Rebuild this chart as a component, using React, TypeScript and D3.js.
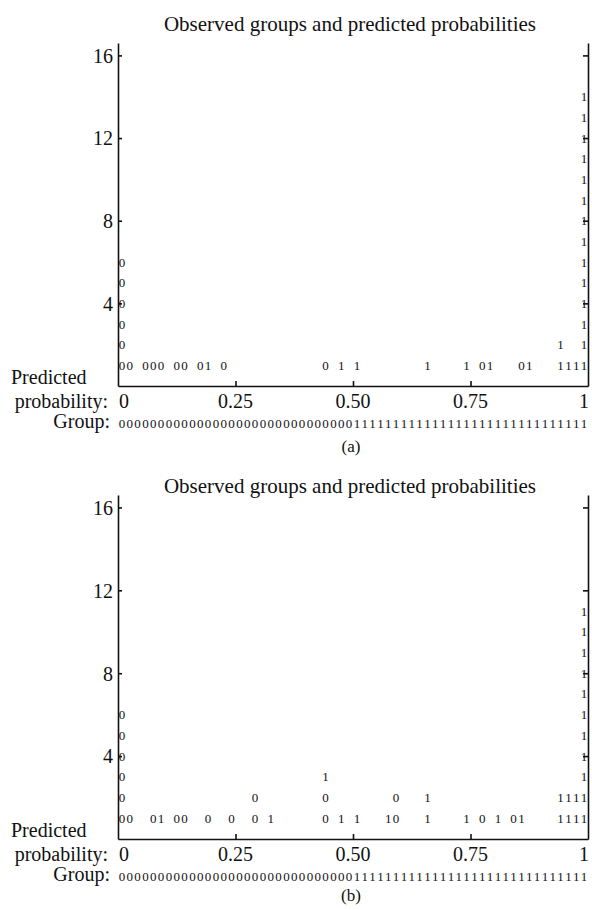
import { useRef, useEffect } from "react";
import * as d3 from "d3";

const title = "Observed groups and predicted probabilities";
const nBins = 60; // columns of the classification plot
const cutBin = 30; // group row switches from 0 to 1 here
const yMax = 16.6;
const yTicks = [4, 8, 12, 16];
const xTickMarks = [0.25, 0.5, 0.75];
const xTicks = [0, 0.25, 0.5, 0.75, 1];
const xTickLabels = ["0", "0.25", "0.50", "0.75", "1"];

// panel (a): column index and the symbols stacked in it, bottom to top
const binsA = [0, 1, 3, 4, 5, 7, 8, 10, 11, 13, 26, 28, 30, 39, 44, 46, 47, 51, 52, 56, 57, 58, 59];
const stacksA = [
  "000000", "0", "0", "0", "0", "0", "0", "0", "1", "0",
  "0", "1", "1", "1", "1", "0", "1", "0", "1",
  "11", "1", "1", "11111111111111",
];

// panel (b)
const binsB = [0, 1, 4, 5, 7, 8, 11, 14, 17, 19, 26, 28, 30, 34, 35, 39, 44, 46, 48, 50, 51, 56, 57, 58, 59];
const stacksB = [
  "000000", "0", "0", "1", "0", "0", "0", "0", "00", "1",
  "001", "1", "1", "1", "00", "11", "1", "0", "1", "0", "1",
  "11", "11", "11", "11111111111",
];

const FONT = "Liberation Serif, DejaVu Serif, serif";

function drawPanel(svg, bins, stacks, lay) {
  const left = 118;
  const right = 588;
  const x = d3.scaleLinear().domain([0, 1]).range([left, right]);
  const col = d3.scaleBand().domain(d3.range(nBins)).range([left, right]);
  const cx = (b) => col(b) + col.bandwidth() / 2;
  const y = d3.scaleLinear().domain([0, yMax]).range([lay.bottom, lay.top]);

  const g = svg.append("g").style("font-family", FONT).attr("fill", "#111");

  g.append("text")
    .attr("x", 350)
    .attr("y", lay.titleY)
    .attr("text-anchor", "middle")
    .attr("font-size", 21)
    .text(title);

  // left axis
  const yAxisL = d3.axisLeft(y).tickValues(yTicks).tickSizeInner(-4).tickSizeOuter(0).tickPadding(5);
  const gl = g.append("g").attr("transform", `translate(${left},0)`).call(yAxisL);
  gl.attr("font-family", null).attr("font-size", 20);
  gl.selectAll("text").attr("fill", "#111").attr("dy", "0.34em");

  // right axis
  const yAxisR = d3.axisRight(y).tickValues(yTicks).tickSizeInner(-5).tickSizeOuter(0).tickFormat(() => "");
  g.append("g").attr("transform", `translate(${right},0)`).call(yAxisR);

  // bottom axis
  const xAxis = d3.axisBottom(x).tickValues(xTickMarks).tickSizeInner(-5).tickSizeOuter(0).tickFormat(() => "");
  g.append("g").attr("transform", `translate(0,${lay.bottom})`).call(xAxis);

  g.selectAll(".domain, .tick line").attr("stroke", "#111").attr("stroke-width", 1.6);

  // x tick labels
  g.selectAll(".xlab")
    .data(xTicks)
    .join("text")
    .attr("class", "xlab")
    .attr("x", (d) => (d === 0 ? x(d) + 1 : d === 1 ? x(d) + 1 : x(d)))
    .attr("y", lay.bottom + 22)
    .attr("text-anchor", (d) => (d === 0 ? "start" : d === 1 ? "end" : "middle"))
    .attr("font-size", 20)
    .text((d, i) => xTickLabels[i]);

  g.append("text").attr("x", 11).attr("y", lay.bottom - 2).attr("font-size", 20).text("Predicted");
  g.append("text").attr("x", 108).attr("y", lay.bottom + 22).attr("text-anchor", "end").attr("font-size", 20).text("probability:");
  g.append("text").attr("x", 110).attr("y", lay.bottom + 42).attr("text-anchor", "end").attr("font-size", 20).text("Group:");

  // group row
  g.selectAll(".grp")
    .data(d3.range(nBins))
    .join("text")
    .attr("class", "grp")
    .attr("x", (d) => cx(d))
    .attr("y", lay.bottom + 42)
    .attr("text-anchor", "middle")
    .attr("font-size", 13)
    .text((d) => (d < cutBin ? "0" : "1"));

  // stacked symbols
  const cells = bins.flatMap((b, i) =>
    stacks[i].split("").map((s, k) => ({ b, s, level: k + 1 }))
  );
  g.selectAll(".sym")
    .data(cells)
    .join("text")
    .attr("class", "sym")
    .attr("x", (d) => cx(d.b))
    .attr("y", (d) => y(d.level))
    .attr("dy", "0.35em")
    .attr("text-anchor", "middle")
    .attr("font-size", 13)
    .text((d) => d.s);

  g.append("text")
    .attr("x", 351)
    .attr("y", lay.captionY)
    .attr("text-anchor", "middle")
    .attr("font-size", 17)
    .text(lay.caption);
}

export default function App() {
  const svgRef = useRef(null);

  useEffect(() => {
    const svg = d3.select(svgRef.current);
    svg.selectAll("*").remove();
    drawPanel(svg, binsA, stacksA, { top: 43, bottom: 386, titleY: 31, captionY: 452, caption: "(a)" });
    drawPanel(svg, binsB, stacksB, { top: 495, bottom: 839, titleY: 493, captionY: 901, caption: "(b)" });
  }, []);

  return (
    <svg
      ref={svgRef}
      width={592}
      height={910}
      style={{ position: "absolute", left: 0, top: 0, background: "#fff" }}
    />
  );
}
